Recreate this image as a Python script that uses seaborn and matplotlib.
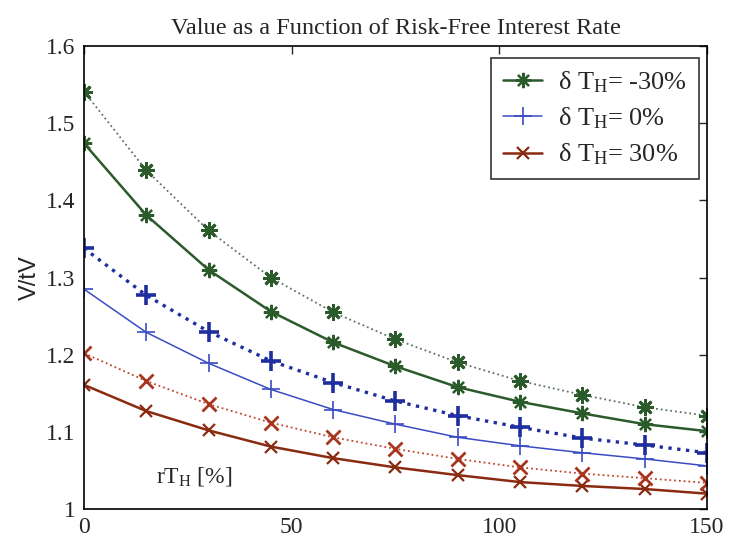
import matplotlib
matplotlib.use("Agg")
import matplotlib.pyplot as plt
import seaborn as sns

# Risk-free interest rate r*T_H in percent
rate = [0, 15, 30, 45, 60, 75, 90, 105, 120, 135, 150]

# Normalised value V/tV for three horizon perturbations (solid) and companion runs (dotted)
minus30_solid = [1.474, 1.381, 1.310, 1.256, 1.216, 1.185, 1.158, 1.139, 1.124, 1.110, 1.101]
minus30_dotted = [1.541, 1.439, 1.361, 1.300, 1.255, 1.220, 1.190, 1.166, 1.148, 1.132, 1.121]
zero_solid = [1.285, 1.229, 1.189, 1.155, 1.129, 1.110, 1.093, 1.082, 1.073, 1.065, 1.056]
zero_dotted = [1.338, 1.277, 1.230, 1.192, 1.164, 1.140, 1.121, 1.106, 1.092, 1.083, 1.073]
plus30_solid = [1.161, 1.127, 1.102, 1.081, 1.066, 1.054, 1.044, 1.035, 1.030, 1.026, 1.020]
plus30_dotted = [1.202, 1.166, 1.136, 1.112, 1.093, 1.078, 1.065, 1.054, 1.046, 1.040, 1.034]

labels = ["δ T$_\\mathregular{H}$= -30%",
          "δ T$_\\mathregular{H}$= 0%",
          "δ T$_\\mathregular{H}$= 30%"]
x_ticks = [0, 50, 100, 150]
y_ticks = [1.0, 1.1, 1.2, 1.3, 1.4, 1.5, 1.6]
y_ticklabels = ["1", "1.1", "1.2", "1.3", "1.4", "1.5", "1.6"]

sns.set_style("white")
plt.rcParams["font.family"] = ["Liberation Serif", "DejaVu Serif"]
plt.rcParams["mathtext.fontset"] = "custom"
plt.rcParams["mathtext.rm"] = "Liberation Serif"
plt.rcParams["mathtext.it"] = "Liberation Serif:italic"

fig = plt.figure(figsize=(7.3, 5.48), dpi=100)
ax = fig.add_axes([0.115, 0.071, 0.8535, 0.845])

green = "#2b5a2b"
blue = "#3a4cc4"
red = "#8a2a10"
asterisk = (8, 2, 0)

series = [
    # solid, dotted, solid colour, dotted colour, dotted marker colour, marker, size, label
    (minus30_solid, minus30_dotted, green, "#5e735e", green, asterisk, 11, labels[0]),
    (zero_solid, zero_dotted, blue, "#1f2e9e", "#1f2e9e", "+", 13, labels[1]),
    (plus30_solid, plus30_dotted, red, "#c0452e", "#a8361f", "x", 9, labels[2]),
]

for solid, dotted, c_solid, c_dot, c_mk, mk, ms, lab in series:
    is_plus = mk == "+"
    sns.lineplot(x=rate, y=solid, ax=ax, color=c_solid,
                 linewidth=1.1 if is_plus else 1.8,
                 marker=mk, markersize=ms,
                 markeredgewidth=1.2 if is_plus else 1.6,
                 markeredgecolor=c_solid, label=lab)
    sns.lineplot(x=rate, y=dotted, ax=ax, color=c_dot, linestyle=":",
                 linewidth=2.4 if is_plus else 1.3,
                 marker=mk, markersize=ms + 1,
                 markeredgewidth=2.6 if is_plus else 2.0,
                 markeredgecolor=c_mk)

ax.set_xlim(0, 150)
ax.set_ylim(1.0, 1.6)
ax.set_xticks(x_ticks)
ax.set_xticklabels([str(t) for t in x_ticks])
ax.set_yticks(y_ticks)
ax.set_yticklabels(y_ticklabels)
ax.tick_params(direction="in", length=6, width=1, labelsize=17, top=True, right=True,
               pad=6)
for sp in ax.spines.values():
    sp.set_color("black")
    sp.set_linewidth(1.2)

ax.set_title("Value as a Function of Risk-Free Interest Rate", fontsize=17.5, pad=9)
ax.set_ylabel("V/tV", fontsize=17, family=["Liberation Sans", "DejaVu Sans"], labelpad=4)
ax.text(0.115, 0.045, "rT$_\\mathregular{H}$ [%]", transform=ax.transAxes, fontsize=17,
        ha="left", va="bottom")

# Legend only for the three solid curves
handles, labs = ax.get_legend_handles_labels()
leg = ax.legend(handles[:3], labs[:3], loc="upper right", bbox_to_anchor=(0.987, 0.975),
                fontsize=19, frameon=True, fancybox=False, edgecolor="black",
                handlelength=1.5, handletextpad=0.6, borderpad=0.45, labelspacing=0.4,
                borderaxespad=0)
leg.get_frame().set_linewidth(1.2)

fig.savefig("out.png", dpi=100)
